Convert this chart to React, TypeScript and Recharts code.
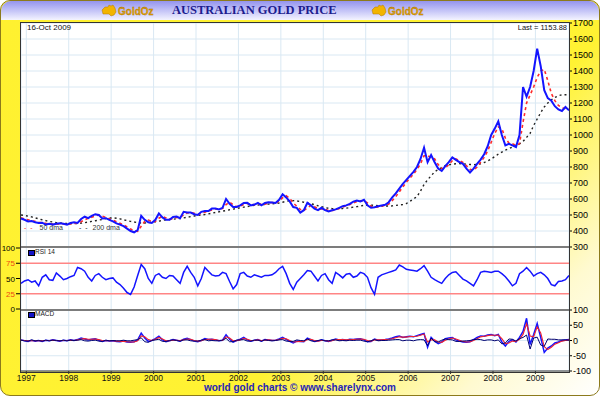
import { CartesianGrid, Line, LineChart, ReferenceLine, XAxis, YAxis } from "recharts";

// monthly readings, Nov 1996 .. Oct 2009 (one row per Nov..Oct year)
const price = [
  478, 470, 460, 462, 455, 450, 452, 440, 445, 440, 445, 449,
  445, 440, 450, 455, 450, 475, 490, 480, 495, 505, 500, 478,
  480, 470, 460, 448, 440, 430, 415, 400, 392, 405, 495, 470,
  455, 450, 470, 510, 485, 470, 470, 488, 490, 480, 520, 515,
  515, 505, 500, 520, 525, 525, 540, 540, 535, 545, 600, 570,
  550, 550, 560, 575, 576, 560, 565, 575, 560, 575, 580, 578,
  575, 595, 630, 610, 585, 550, 545, 515, 530, 576, 560, 540,
  530, 545, 530, 522, 530, 535, 545, 555, 560, 570, 584, 590,
  585, 595, 560, 545, 548, 555, 560, 564, 580, 610, 635, 665,
  695, 720, 745, 770, 800, 850, 920, 830, 875, 830, 790, 775,
  805, 830, 860, 845, 830, 820, 790, 766, 790, 820, 846, 880,
  930, 1000, 1040, 1085, 1000, 935, 945, 935, 925, 1000, 1300, 1240,
  1300, 1400, 1540, 1430, 1280, 1230, 1215, 1180, 1160, 1150, 1175, 1154,
];

const ma50 = [
  482, 476, 470, 464, 460, 455, 452, 448, 446, 444, 443, 444,
  444, 443, 444, 447, 450, 458, 470, 480, 486, 494, 500, 492,
  484, 476, 468, 458, 448, 438, 426, 412, 402, 398, 430, 460,
  468, 460, 460, 480, 492, 482, 474, 476, 484, 486, 500, 512,
  515, 510, 505, 508, 518, 524, 532, 538, 538, 540, 565, 580,
  565, 552, 555, 565, 572, 568, 564, 568, 568, 568, 575, 578,
  577, 585, 608, 620, 605, 575, 555, 535, 528, 545, 560, 552,
  540, 538, 536, 528, 528, 532, 540, 550, 557, 565, 575, 585,
  588, 590, 575, 555, 548, 550, 555, 560, 568, 590, 615, 645,
  675, 705, 730, 755, 785, 820, 870, 870, 860, 850, 815, 790,
  795, 815, 840, 850, 840, 828, 808, 785, 780, 800, 830, 860,
  900, 955, 1010, 1050, 1040, 980, 950, 945, 935, 945, 1080, 1200,
  1250, 1300, 1360, 1400, 1410, 1340, 1260, 1215, 1185, 1170, 1165, 1160,
];

const ma200 = [
  500, 497, 493, 488, 482, 476, 470, 465, 460, 456, 452, 450,
  448, 447, 446, 446, 447, 449, 452, 456, 460, 464, 468, 472,
  478, 481, 482, 480, 476, 470, 465, 460, 456, 452, 450, 450,
  452, 455, 458, 462, 466, 470, 472, 474, 476, 478, 482, 486,
  490, 494, 497, 500, 503, 507, 511, 516, 520, 524, 528, 533,
  537, 541, 545, 549, 553, 557, 560, 562, 564, 566, 568, 570,
  572, 575, 580, 585, 590, 590, 588, 584, 580, 575, 570, 565,
  558, 552, 546, 542, 540, 540, 540, 541, 543, 546, 549, 552,
  556, 560, 562, 562, 560, 558, 557, 556, 556, 557, 560, 563,
  566, 572, 585, 600, 615, 650, 690, 720, 745, 770, 785, 796,
  808, 814, 818, 820, 821, 820, 818, 816, 815, 816, 820, 828,
  838, 850, 865, 880, 893, 905, 915, 925, 935, 945, 960, 985,
  1010, 1060, 1100, 1140, 1175, 1200, 1220, 1235, 1245, 1252, 1252, 1245,
];

const rsi = [
  42, 46, 48, 44, 46, 38, 52, 56, 48, 47, 59, 54,
  48, 50, 53, 55, 68, 66, 62, 52, 46, 55, 58, 52,
  48, 50, 51, 44, 40, 34, 27, 24, 36, 55, 73, 66,
  50, 42, 55, 58, 52, 50, 55, 54, 48, 42, 60, 70,
  60, 52, 38, 50, 68, 62, 56, 54, 55, 60, 58, 45,
  33, 40, 58, 60, 54, 52, 56, 54, 52, 55, 55, 56,
  60, 66, 70, 58, 42, 32, 44, 50, 56, 63, 62, 54,
  46, 55, 58, 48, 42, 60, 56, 51, 57, 58, 52, 54,
  60, 58, 52, 35, 24, 52, 56, 58, 60, 62, 64, 72,
  69, 65, 64, 63, 62, 66, 71, 62, 52, 48, 45, 42,
  50, 56, 60, 61, 55, 49, 46, 42, 38, 48, 60, 62,
  61, 60, 62, 62, 58, 53, 46, 38, 42, 58, 62, 68,
  62, 54, 58, 60, 56, 50, 40, 38, 45, 46, 48, 55,
];

const macd = [
  2, -1, -3, 1, -2, 0, -3, 1, -1, 2, 0, -2,
  1, -1, 2, 0, 3, 8, 5, 2, 4, 6, 1, -3,
  0, -2, -1, -3, -4, -2, -5, -6, -4, 2, 24, 8,
  -3, 0, 6, 14, 2, -4, -1, 3, 1, -2, 4, 7,
  3, -2, -4, 0, 6, 3, 4, 2, -1, 1, 19, 4,
  -5, 0, 4, 10, 2, -2, 1, 3, -2, 3, 2, 0,
  1, 5, 10, 4, -3, -8, -2, -3, -4, 8, 3, -3,
  -2, 2, -1, -3, 1, 5, 2, 3, 1, 4, 3, 5,
  6, 2, -4, -3, 5, 1, 2, 3, 5, 8, 12, 15,
  10, 12, 14, 12, 16, 20, 23, -22, 10, -2, -10, -5,
  6, 8, 10, 2, -2, -5, -6, -4, 3, 10, 15, 14,
  18, 20, 16, 20, -5, -18, -3, 2, -5, 10, 30, 73,
  -13, 20, 56, 10, -39, -25, -18, -8, -5, 0, 2, 3,
];

const signal = [
  1, 0, -1, -1, -1, 0, -1, 0, 0, 1, 0, -1,
  0, 0, 1, 0, 2, 5, 6, 4, 4, 5, 3, 0,
  -1, -1, -1, -2, -3, -3, -4, -5, -5, -1, 15, 12,
  3, 0, 4, 10, 5, -1, -1, 1, 1, 0, 2, 5,
  4, 0, -2, -1, 3, 4, 4, 3, 0, 0, 12, 8,
  -1, -1, 2, 7, 4, 0, 0, 2, 0, 1, 2, 1,
  1, 3, 7, 6, 0, -5, -4, -3, -3, 3, 4, 0,
  -2, 0, 0, -2, -1, 3, 3, 3, 2, 3, 3, 4,
  5, 4, 0, -2, 2, 2, 2, 3, 4, 6, 9, 12,
  11, 11, 13, 13, 14, 17, 21, -5, 2, 2, -5, -6,
  1, 5, 8, 5, 1, -3, -5, -4, 0, 6, 12, 14,
  16, 18, 17, 18, 6, -10, -8, -2, -3, 4, 20, 55,
  15, 12, 45, 25, -20, -30, -22, -12, -7, -2, 0, 2,
];

const hist = [
  1, -1, -2, 2, -1, 0, -2, 1, -1, 1, 0, -1,
  1, -1, 1, 0, 1, 3, -1, -2, 0, 1, -2, -3,
  1, -1, 0, -1, -1, 1, -1, -1, 1, 3, 9, -4,
  -6, 0, 2, 4, -3, -3, 0, 2, 0, -2, 2, 2,
  -1, -2, -2, 1, 3, -1, 0, -1, -1, 1, 7, -4,
  -4, 1, 2, 3, -2, -2, 1, 1, -2, 2, 0, -1,
  0, 2, 3, -2, -3, -3, 2, 0, -1, 5, -1, -3,
  0, 2, -1, -1, 2, 2, -1, 0, -1, 1, 0, 1,
  1, -2, -4, -1, 3, -1, 0, 0, 1, 2, 3, 3,
  -1, 1, 1, -1, 2, 3, 2, -17, 8, -4, -5, 1,
  5, 3, 2, -3, -3, -2, -1, 0, 3, 4, 3, 0,
  2, 2, -1, 2, -11, -8, 5, 4, -2, 6, 10, 18,
  -28, 8, 11, -15, -19, 5, 4, 4, 2, 2, 2, 1,
];

const years = [1997, 1998, 1999, 2000, 2001, 2002, 2003, 2004, 2005, 2006, 2007, 2008, 2009];
const priceTicks = [300, 400, 500, 600, 700, 800, 900, 1000, 1100, 1200, 1300, 1400, 1500, 1600, 1700];
const rsiTicks = [0, 25, 50, 75, 100];
const macdTicks = [-100, -50, 0, 50, 100];

// first reading is mid-November 1996
const rows = price.map((p, i) => ({
  t: 1996 + (10.5 + i) / 12,
  price: p,
  ma50: ma50[i],
  ma200: ma200[i],
  rsi: rsi[i],
  macd: macd[i],
  signal: signal[i],
  hist: hist[i],
}));

const FONT = '"Liberation Sans", Arial, sans-serif';
const GRID = "#d9e8f3";

function RsiTick(props: any) {
  const { x, y, payload } = props;
  const warm = payload.value === 75 || payload.value === 25;
  return (
    <text x={x} y={y} dy={3} textAnchor="end" fontSize={8} fill={warm ? "#ee4a10" : "#000"}>
      {payload.value}
    </text>
  );
}

function Logo({ x }: { x: number }) {
  return (
    <svg width={60} height={16} style={{ position: "absolute", left: x, top: 3 }}>
      <path d="M2 7 L5 4 L8 4 L9 2 L11 3 L13 2 L15 5 L16 9 L14 12 L11 13 L9 11 L6 11 L3 11 Z" fill="#f2b400" stroke="#b07800" strokeWidth={0.5} />
      <text x={18} y={12} fontSize={10} fontWeight="bold" fill="#e8a400" stroke="#9a6a00" strokeWidth={0.3} fontFamily={FONT}>
        GoldOz
      </text>
    </svg>
  );
}

export default function App() {
  const abs = (left: number, top: number) => ({ position: "absolute" as const, left, top });
  return (
    <div style={{ position: "absolute", left: 0, top: 0, width: 600, height: 396, fontFamily: FONT, overflow: "hidden" }}>
      <div
        style={{
          position: "absolute",
          left: 0,
          top: 0,
          width: 598,
          height: 394,
          borderRadius: 10,
          border: "1px solid #8c7a1c",
          background: "linear-gradient(135deg, #fff130 0%, #fff233 64%, #fffad0 86%, #ffffff 100%)",
        }}
      />
      <div
        style={{
          position: "absolute",
          left: 1,
          top: 1,
          width: 598,
          height: 19,
          borderRadius: "10px 10px 0 0",
          background: "linear-gradient(#9494ee, #c8c8f8 55%, #f4f4ff)",
        }}
      />
      <div style={{ ...abs(172, 3), whiteSpace: "nowrap", fontFamily: '"Liberation Serif", "Times New Roman", serif', fontWeight: "bold", fontSize: 12.5, color: "#1c1c8e" }}>
        AUSTRALIAN GOLD PRICE
      </div>
      <Logo x={100} />
      <Logo x={370} />

      <div style={abs(0, 0)}>
        <LineChart width={600} height={260} data={rows} margin={{ top: 23, right: 1, bottom: 13, left: 21 }}>
          <CartesianGrid stroke={GRID} fill="#fff" />
          <XAxis type="number" dataKey="t" domain={["dataMin", "dataMax"]} ticks={years} hide />
          <YAxis
            orientation="right"
            width={30}
            domain={[300, 1700]}
            ticks={priceTicks}
            interval={0}
            tick={{ fontSize: 9, fill: "#000" }}
            tickSize={3}
            tickMargin={1}
            axisLine={false}
            tickLine={{ stroke: "#000" }}
          />
          <Line dataKey="ma200" stroke="#222" strokeWidth={1.4} strokeDasharray="2 3" dot={false} isAnimationActive={false} />
          <Line dataKey="ma50" stroke="#ff2a2a" strokeWidth={1.6} strokeDasharray="3 3" dot={false} isAnimationActive={false} />
          <Line dataKey="price" stroke="#1414ff" strokeWidth={2} dot={false} isAnimationActive={false} />
        </LineChart>
      </div>

      <div style={abs(0, 0)}>
        <LineChart width={600} height={322} data={rows} margin={{ top: 248, right: 31, bottom: 13, left: 0 }}>
          <CartesianGrid stroke={GRID} fill="#fff" horizontal={false} />
          <XAxis type="number" dataKey="t" domain={["dataMin", "dataMax"]} ticks={years} hide />
          <YAxis
            width={21}
            domain={[0, 100]}
            ticks={rsiTicks}
            interval={0}
            tick={<RsiTick />}
            tickSize={5}
            tickMargin={1}
            axisLine={false}
            tickLine={{ stroke: "#000" }}
          />
          <ReferenceLine y={75} stroke="#ff8585" strokeWidth={1.5} />
          <ReferenceLine y={25} stroke="#ff8585" strokeWidth={1.5} />
          <Line dataKey="rsi" stroke="#1414ff" strokeWidth={1.5} dot={false} isAnimationActive={false} />
        </LineChart>
      </div>

      <div style={abs(0, 0)}>
        <LineChart width={600} height={396} data={rows} margin={{ top: 310, right: 1, bottom: 5, left: 21 }}>
          <CartesianGrid stroke={GRID} fill="#fff" />
          <XAxis
            type="number"
            dataKey="t"
            domain={["dataMin", "dataMax"]}
            ticks={years}
            interval={0}
            height={20}
            tick={{ fontSize: 8.5, fill: "#111" }}
            tickSize={3}
            tickMargin={1}
            axisLine={{ stroke: "#333" }}
            tickLine={{ stroke: "#333" }}
          />
          <YAxis
            orientation="right"
            width={30}
            domain={[-100, 100]}
            ticks={macdTicks}
            interval={0}
            tick={{ fontSize: 9, fill: "#000" }}
            tickSize={3}
            tickMargin={1}
            axisLine={false}
            tickLine={{ stroke: "#000" }}
          />
          <Line dataKey="macd" stroke="#1414ff" strokeWidth={1.5} dot={false} isAnimationActive={false} />
          <Line dataKey="signal" stroke="#ee2030" strokeWidth={1.1} dot={false} isAnimationActive={false} />
          <Line dataKey="hist" stroke="#000070" strokeWidth={1} dot={false} isAnimationActive={false} />
        </LineChart>
      </div>

      {/* panel frame and separators */}
      <div style={{ ...abs(20, 22), width: 548, height: 349, border: "1px solid #333", pointerEvents: "none" }} />
      <div style={{ ...abs(21, 246), width: 548, height: 2, background: "#7c7c7c" }} />
      <div style={{ ...abs(21, 308.5), width: 548, height: 2, background: "#7c7c7c" }} />

      <div style={{ ...abs(27, 23), fontSize: 8, color: "#111" }}>16-Oct 2009</div>
      <div style={{ ...abs(470, 23), width: 97, textAlign: "right", fontSize: 7.5, color: "#111" }}>Last = 1153.88</div>

      <div style={{ ...abs(24, 224), fontSize: 7, color: "#333", whiteSpace: "nowrap" }}>
        <span style={{ color: "#ff2a2a", letterSpacing: 1 }}>- -</span>
        <span style={{ marginLeft: 6 }}>50 dma</span>
        <span style={{ color: "#222", letterSpacing: 1, marginLeft: 16 }}>- -</span>
        <span style={{ marginLeft: 4 }}>200 dma</span>
      </div>

      <div style={{ ...abs(28, 250), width: 5, height: 4, background: "#1414c8", border: "0.5px solid #000" }} />
      <div style={{ ...abs(35, 248), fontSize: 6.5, color: "#222" }}>RSI 14</div>
      <div style={{ ...abs(28, 312), width: 5, height: 4, background: "#1414c8", border: "0.5px solid #000" }} />
      <div style={{ ...abs(35, 310), fontSize: 6.5, color: "#222" }}>MACD</div>

      <div style={{ ...abs(0, 383), width: 600, textAlign: "center", fontSize: 10, lineHeight: "10px", fontWeight: "bold", color: "#2424b8" }}>
        world gold charts © www.sharelynx.com
      </div>
    </div>
  );
}
